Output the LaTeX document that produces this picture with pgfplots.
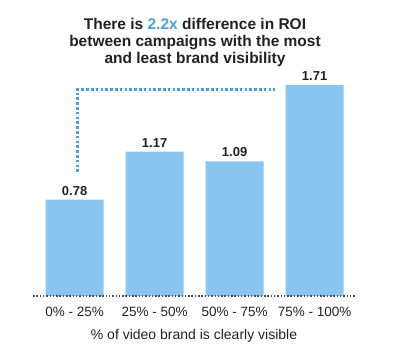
\documentclass[border=0pt]{standalone}
\usepackage{pgfplots}
\pgfplotsset{compat=1.18}
\usepackage{fontspec}
\setmainfont{Liberation Sans}
\definecolor{barblue}{HTML}{88C5F0}
\definecolor{accent}{HTML}{4A9FE0}
\definecolor{txt}{HTML}{222222}
\begin{document}
\begin{tikzpicture}[x=1pt,y=1pt]
\useasboundingbox (0,0) rectangle (394,358);
\node[align=center, font=\bfseries\fontsize{15.5}{17}\selectfont, text=txt] at (195,316)
 {There is \textcolor{accent}{2.2x} difference in ROI\\between campaigns with the most\\and least brand visibility};
\begin{axis}[
  at={(33pt,62pt)}, anchor=south west,
  scale only axis, width=322pt, height=216pt,
  xmin=-0.52, xmax=3.505, ymin=0, ymax=1.75,
  axis line style={draw=none}, ytick=\empty, clip=false,
  xtick={0,1,2,3},
  xticklabels={0\% - 25\%, 25\% - 50\%, 50\% - 75\%, 75\% - 100\%},
  xticklabel style={font=\fontsize{13.5}{15}\selectfont, text=txt, yshift=-8pt},
  major tick length=0pt,
  xlabel={\% of video brand is clearly visible},
  xlabel style={font=\fontsize{14}{16}\selectfont, text=txt, yshift=-5pt},
  /pgf/number format/assume math mode=true,
]
\addplot[ybar, bar width=0.725, fill=barblue, draw=none,
  nodes near coords={\pgfmathprintnumber[fixed,precision=2,fixed zerofill]{\pgfplotspointmeta}},
  every node near coord/.append style={font=\bfseries\fontsize{13}{15}\selectfont, text=txt, yshift=1pt}]
 coordinates {(0,0.78) (1,1.17) (2,1.09) (3,1.71)};
\addplot[accent, line width=3pt, dash pattern=on 2.6pt off 2.2pt] coordinates {(0.03,1.005) (0.03,1.67) (2.51,1.67)};
\addplot[txt!80, line width=1.5pt, dash pattern=on 1.5pt off 1.8pt] coordinates {(-0.52,0) (3.505,0)};
\end{axis}
\end{tikzpicture}
\end{document}
